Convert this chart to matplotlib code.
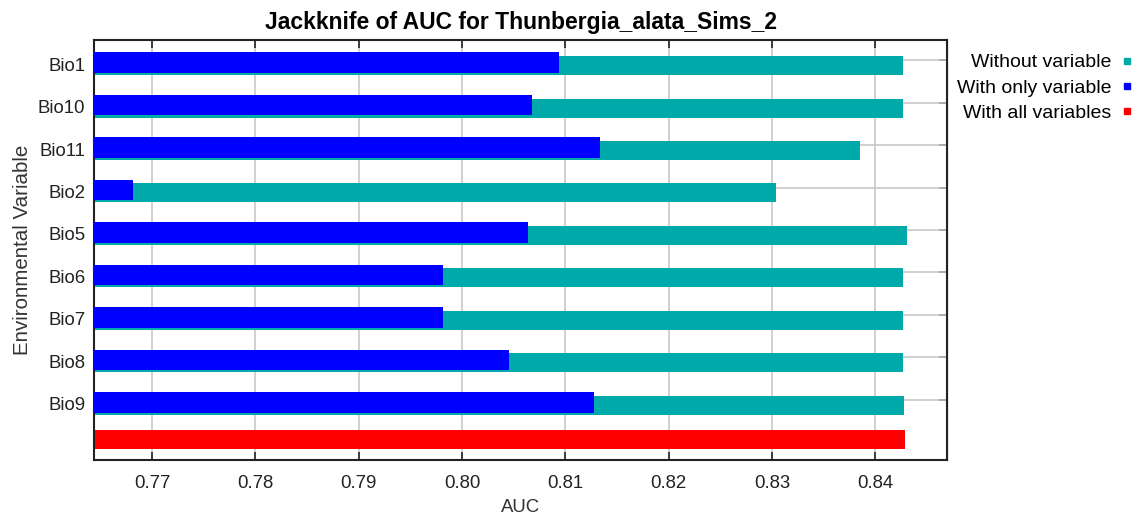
import numpy as np
import matplotlib
matplotlib.use('Agg')
import matplotlib.pyplot as plt
from matplotlib.lines import Line2D

plt.rcParams['font.family'] = ['Liberation Sans', 'DejaVu Sans']

# jackknife results (AUC)
variables = ['Bio1', 'Bio10', 'Bio11', 'Bio2', 'Bio5', 'Bio6', 'Bio7', 'Bio8', 'Bio9']
auc_without = [0.8427, 0.8427, 0.8385, 0.8304, 0.8431, 0.8427, 0.8427, 0.8427, 0.8428]
auc_only = [0.8094, 0.8068, 0.8134, 0.7681, 0.8064, 0.7982, 0.7982, 0.8045, 0.8128]
auc_all = 0.8429
xticks = [0.77, 0.78, 0.79, 0.80, 0.81, 0.82, 0.83, 0.84]

teal = '#00aaaa'
blue = '#0000ff'
red = '#ff0000'

fig = plt.figure(figsize=(11.34, 5.17), dpi=100)
ax = fig.add_axes([0.0832, 0.1103, 0.7523, 0.8123])

rows = np.arange(len(variables))
all_row = 8.84

# gridlines sit a little above the row centre
for g in rows - 0.094:
    ax.axhline(g, color='#c8c8c8', lw=1.2, zorder=0.5)
ax.set_xticks(xticks)
ax.grid(axis='x', color='#c8c8c8', lw=1.2, zorder=0.5)

ax.barh(rows + 0.035, auc_without, height=0.447, color=teal, zorder=2)
ax.barh(rows - 0.035, auc_only, height=0.48, color=blue, zorder=3)
ax.barh(all_row, auc_all, height=0.454, color=red, zorder=2)

ax.set_xlim(0.7644, 0.8470)
ax.set_ylim(9.318, -0.565)

ax.set_yticks(rows)
ax.set_yticklabels(variables)
ax.set_xticklabels(['%.2f' % t for t in xticks])
ax.tick_params(axis='y', left=False, labelsize=13.4, pad=3, colors='#222222')
ax.tick_params(axis='x', direction='in', top=True, length=6, width=1.2,
               labelsize=13.4, pad=11, colors='#222222')

right = ax.secondary_yaxis('right')
right.set_yticks(rows - 0.094)
right.set_yticklabels([])
right.tick_params(direction='in', length=6, width=1.2)

for s in ax.spines.values():
    s.set_linewidth(1.5)
    s.set_color('#222222')

ax.set_title('Jackknife of AUC for Thunbergia_alata_Sims_2', fontsize=16.5,
             fontweight='bold', pad=8)
ax.set_xlabel('AUC', fontsize=13.4, color='#333333', labelpad=5)
ax.set_ylabel('Environmental Variable', fontsize=14.8, color='#333333', labelpad=4)

handles = [Line2D([], [], ls='none', marker='s', ms=5, color=c) for c in (teal, blue, red)]
fig.legend(handles, ['Without variable', 'With only variable', 'With all variables'],
           loc='upper right', bbox_to_anchor=(1.006, 0.911), markerfirst=False,
           frameon=False, fontsize=14, handlelength=0.6, handletextpad=0.5,
           labelspacing=0.4, borderaxespad=0.2, borderpad=0.2)

fig.savefig('out.png', dpi=100)
